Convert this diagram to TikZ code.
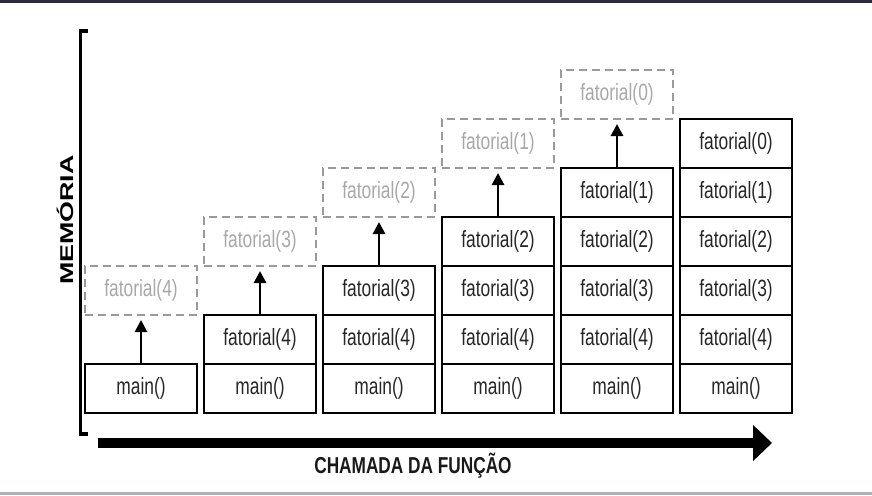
\documentclass[tikz,border=0pt]{standalone}
\usepackage{fontspec}
\setmainfont{Liberation Sans}
\newfontfamily\boxfont[FakeStretch=0.74]{Liberation Sans}
\newfontfamily\memfont[FakeStretch=1.45]{Liberation Sans}
\newfontfamily\axfont[FakeStretch=0.75]{Liberation Sans}
\usetikzlibrary{arrows.meta}
\definecolor{topband}{HTML}{2B2B3A}
\definecolor{botband}{HTML}{B0B0B8}
\definecolor{ghostline}{HTML}{9A9A9A}
\definecolor{ghosttext}{HTML}{A8A8A8}
\definecolor{boxtext}{HTML}{262626}
\tikzset{
  frame/.style={draw=black, line width=2.2pt, minimum width=112pt, minimum height=49pt,
    inner sep=0pt, text=boxtext, font=\boxfont\fontsize{23.5}{25}\selectfont},
  ghost/.style={draw=ghostline, line width=2pt, dash pattern=on 8pt off 5pt,
    minimum width=112pt, minimum height=49pt, inner sep=0pt, text=ghosttext,
    font=\boxfont\fontsize{23.5}{25}\selectfont},
  uparrow/.style={line width=2.8pt, -{Triangle[width=12pt,length=12pt]}},
}
\begin{document}
\begin{tikzpicture}[x=1pt,y=-1pt]
\useasboundingbox (0,0) rectangle (872,495);
\fill[topband] (0,0) rectangle (872,3);
\fill[botband] (0,491.5) rectangle (872,495);
% stacks
\foreach \k in {0,...,5}{
  \pgfmathsetmacro{\cx}{141+119*\k}
  \foreach \i in {0,...,\k}{
    \pgfmathsetmacro{\cy}{388.5-49*\i}
    \pgfmathtruncatemacro{\n}{5-\i}
    \ifnum\i=0
      \node[frame] (s\k-\i) at (\cx,\cy) {main()};
    \else
      \node[frame] (s\k-\i) at (\cx,\cy) {fatorial(\n)};
    \fi
  }
  \ifnum\k<5
    \pgfmathsetmacro{\gy}{388.5-49*(\k+2)}
    \pgfmathtruncatemacro{\gn}{4-\k}
    \node[ghost] (g\k) at (\cx,\gy) {fatorial(\gn)};
    \draw[uparrow] (s\k-\k.north) -- ([yshift=-4pt]g\k.south);
  \fi
}
% axes
\coordinate (vt) at (87.5,31);
\coordinate (vb) at (87.5,434);
\draw[line width=3.5pt, miter limit=10] (vt) -- (80.5,31) -- (80.5,434) -- (vb);
\node[rotate=90, text=black, font=\memfont\bfseries\fontsize{18.5}{20}\selectfont] (mem) at (65,220) {MEMÓRIA};
\coordinate (hs) at (98,443);
\coordinate (he) at (772,443);
\draw[line width=9.5pt, -{Triangle[width=35pt,length=19pt]}] (hs) -- (he);
\node[text=black!90, font=\axfont\bfseries\fontsize{23}{25}\selectfont] (call) at (413,466) {CHAMADA DA FUNÇÃO};
\end{tikzpicture}
\end{document}
